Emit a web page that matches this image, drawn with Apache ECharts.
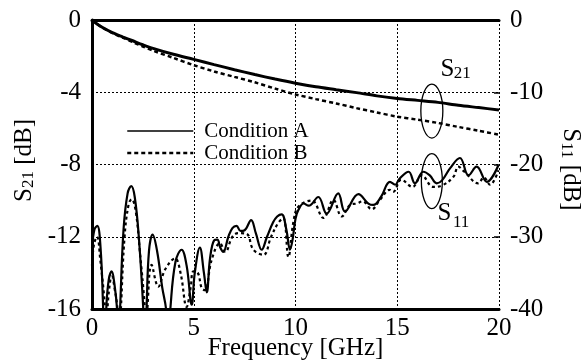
<!DOCTYPE html>
<html>
<head>
<meta charset="utf-8">
<script src="https://cdn.jsdelivr.net/npm/echarts@6/dist/echarts.min.js"></script>
<style>html,body{margin:0;padding:0;background:#fff;}#c{width:584px;height:362px;}</style>
</head>
<body>
<div id="c"></div>
<script>
// ---- data ----
const xTicks = [0, 5, 10, 15, 20];
const s21Freq = [0,0.25,0.5,1,1.5,2,2.5,3,4,5,6,7,8,9,10,11,12,13,14,15,16,17,18,19,20];
const s21A = [0,-0.22,-0.4,-0.7,-0.93,-1.15,-1.37,-1.57,-1.9,-2.18,-2.47,-2.75,-3.02,-3.27,-3.5,-3.7,-3.86,-4.02,-4.2,-4.34,-4.45,-4.56,-4.72,-4.85,-4.98];
const s21B = [0,-0.22,-0.41,-0.72,-0.97,-1.22,-1.47,-1.7,-2.1,-2.5,-2.85,-3.15,-3.45,-3.8,-4.12,-4.38,-4.62,-4.88,-5.12,-5.35,-5.52,-5.7,-5.92,-6.13,-6.35];

const s11AFreq = [0,0.12,0.26,0.42,0.55,0.62,0.7,0.82,0.97,1.1,1.23,1.3,1.38,1.55,1.75,1.93,2.1,2.3,2.52,2.6,2.68,2.8,2.98,3.2,3.45,3.64,3.75,3.85,4.1,4.4,4.65,4.9,5.05,5.3,5.5,5.64,5.8,6.0,6.16,6.3,6.45,6.7,6.9,7.1,7.3,7.5,7.82,8.05,8.34,8.6,8.9,9.1,9.32,9.55,9.73,9.85,10.0,10.14,10.4,10.65,11.12,11.53,12.1,12.43,13.09,13.58,13.82,14.2,14.64,14.9,15.1,15.56,15.87,16.28,16.6,16.94,17.2,17.6,18.08,18.5,18.9,19.4,19.97];
const s11A = [-31.5,-29,-28.5,-31.5,-40,-46,-40,-36,-34.8,-36.5,-40,-46,-40,-29,-24,-23.0,-24.5,-30,-40,-46,-40,-32,-29.7,-32,-37,-40,-45,-40,-33.5,-31.8,-34,-39.4,-35,-31.5,-35,-37.7,-33,-30.5,-30.4,-31.5,-32.1,-30,-28.8,-28.5,-29.2,-29.1,-27.7,-29.5,-31.8,-30,-28,-27.2,-26.9,-29,-31.8,-30.5,-27.5,-26.3,-25.4,-25.7,-24.5,-26.8,-24.0,-26.5,-24.1,-25.4,-25.6,-24.5,-22.4,-22.8,-22.0,-21.0,-22.6,-21.0,-21.5,-22.6,-22.2,-20.5,-19.1,-21.5,-20.3,-22.4,-20.1];

const s11BFreq = [0,0.1,0.25,0.4,0.64,0.7,0.76,0.9,0.98,1.1,1.25,1.32,1.42,1.6,1.8,1.95,2.15,2.35,2.6,2.65,2.72,2.93,3.26,3.6,4.08,4.35,4.65,4.85,4.98,5.2,5.39,5.55,5.88,6.29,6.55,6.9,7.19,7.6,7.93,8.42,8.8,9.15,9.4,9.65,9.9,10.15,10.8,11.37,11.86,12.27,12.68,13.0,13.3,13.74,14.15,14.64,14.8,15.2,15.75,16.2,16.77,17.2,17.76,18.0,18.3,18.98,19.25,19.56,19.97];
const s11B = [-34,-31,-30,-33,-40,-46,-40,-36,-35.5,-37,-40,-46,-40,-30,-25.5,-24.8,-26.5,-32,-40,-44,-40,-33.9,-36.9,-34.5,-33.0,-35,-39.7,-37,-34.8,-35,-37.1,-37.4,-33.2,-30.9,-32.1,-30,-29.5,-29.6,-31.8,-32.5,-30,-28.1,-27.4,-32.8,-27.9,-25.8,-25.0,-27.4,-24.9,-27.2,-25.6,-25.4,-25.1,-26.2,-24.9,-23.5,-23.8,-22.1,-23.1,-21.5,-23.1,-22.9,-21.7,-20.3,-21,-22.6,-21.8,-22.8,-20.8];

const legendNames = ['Condition A', 'Condition B'];

function pairs(xs, ys){ return xs.map((x,i)=>[x, ys[i]]); }

const FONT = 'Liberation Serif';
const chart = echarts.init(document.getElementById('c'), null, {renderer:'canvas'});
const grid = {left:92, right:85, top:20, bottom:53, containLabel:false, outerBoundsMode:'none'};
const dotted = {color:'#000', width:1, type:[2,2]};
const nameRich = {
  m:{fontFamily:FONT, fontSize:25, color:'#000', lineHeight:26, verticalAlign:'bottom'},
  s:{fontFamily:FONT, fontSize:17, color:'#000', lineHeight:16, verticalAlign:'bottom'}
};

const option = {
  backgroundColor:'#fff',
  animation:false,
  grid: grid,
  legend: {
    orient:'vertical', left:126, top:120, padding:0, itemGap:0, itemWidth:66, itemHeight:14,
    itemStyle:{color:'rgba(0,0,0,0)', borderColor:'rgba(0,0,0,0)', borderWidth:0},
    data:[
      {name:legendNames[0], lineStyle:{width:1.4}},
      {name:legendNames[1], lineStyle:{width:2.5}}
    ],
    textStyle:{fontFamily:FONT, fontSize:21, color:'#000', lineHeight:22, padding:[0,0,0,6]}
  },
  xAxis: [{
    type:'value', min:0, max:20, interval:5, position:'bottom',
    axisLine:{show:true, onZero:false, lineStyle:{color:'#000', width:3}},
    axisTick:{show:false},
    axisLabel:{fontFamily:FONT, fontSize:25, color:'#000', margin:7},
    splitLine:{show:true, lineStyle:dotted},
    name:'Frequency [GHz]', nameLocation:'middle', nameGap:27, nameMoveOverlap:false,
    nameTextStyle:{fontFamily:FONT, fontSize:25, color:'#000'}
  },{
    type:'value', min:0, max:20, interval:5, position:'top',
    axisLine:{show:true, onZero:false, lineStyle:{color:'#000', width:3}},
    axisTick:{show:false}, axisLabel:{show:false}, splitLine:{show:false}
  }],
  yAxis: [{
    type:'value', min:-16, max:0, interval:4, position:'left',
    axisLine:{show:true, onZero:false, lineStyle:{color:'#000', width:3}},
    axisTick:{show:false},
    axisLabel:{fontFamily:FONT, fontSize:25, color:'#000', margin:11},
    splitLine:{show:true, lineStyle:dotted},
    name:'{m|S}{s|21}{m| [dB]}', nameLocation:'middle', nameGap:55, nameRotate:90,
    nameTextStyle:{fontFamily:FONT, fontSize:25, color:'#000', rich:nameRich, padding:[0,0,0,8]}
  },{
    type:'value', min:-40, max:0, interval:10, position:'right',
    axisLine:{show:false, onZero:false},
    axisTick:{show:true, inside:true, length:5, lineStyle:{color:'#000', width:1.5}},
    axisLabel:{fontFamily:FONT, fontSize:25, color:'#000', margin:11},
    splitLine:{show:false},
    name:'{m|S}{s|11}{m| [dB]}', nameLocation:'middle', nameGap:59, nameRotate:-90,
    nameTextStyle:{fontFamily:FONT, fontSize:25, color:'#000', rich:nameRich, padding:[0,0,0,10]}
  }],
  series: [
    {name:legendNames[0], type:'line', xAxisIndex:0, yAxisIndex:0, data:pairs(s21Freq, s21A),
     showSymbol:false, symbol:'none', smooth:0.3, itemStyle:{color:'#000'}, lineStyle:{color:'#000', width:3}},
    {name:legendNames[1], type:'line', xAxisIndex:0, yAxisIndex:0, data:pairs(s21Freq, s21B),
     showSymbol:false, symbol:'none', smooth:0.3, itemStyle:{color:'#000'}, lineStyle:{color:'#000', width:2.5, type:[4,3]}},
    {name:legendNames[0], type:'line', xAxisIndex:0, yAxisIndex:1, data:pairs(s11AFreq, s11A),
     showSymbol:false, symbol:'none', smooth:0.4, clip:true, itemStyle:{color:'#000'}, lineStyle:{color:'#000', width:2.2}},
    {name:legendNames[1], type:'line', xAxisIndex:0, yAxisIndex:1, data:pairs(s11BFreq, s11B),
     showSymbol:false, symbol:'none', smooth:0.4, clip:true, itemStyle:{color:'#000'}, lineStyle:{color:'#000', width:2.2, type:[3,3]}}
  ]
};
chart.setOption(option);

// annotations anchored to data coordinates
const e21 = chart.convertToPixel({xAxisIndex:0, yAxisIndex:0}, [16.7, -5.04]);
const e11 = chart.convertToPixel({xAxisIndex:0, yAxisIndex:1}, [16.7, -22.3]);
chart.setOption({
  graphic: [
    {type:'ellipse', shape:{cx:e21[0], cy:e21[1], rx:11, ry:27}, style:{fill:null, stroke:'#000', lineWidth:1.3}, z:100},
    {type:'ellipse', shape:{cx:e11[0], cy:e11[1], rx:10.5, ry:27.5}, style:{fill:null, stroke:'#000', lineWidth:1.3}, z:100},
    {type:'text', x:e21[0]+15.5, y:e21[1]-42, style:{text:'S', font:'25px "Liberation Serif"', fill:'#000', align:'center', verticalAlign:'middle'}, z:100},
    {type:'text', x:e21[0]+30.5, y:e21[1]-38, style:{text:'21', font:'17px "Liberation Serif"', fill:'#000', align:'center', verticalAlign:'middle'}, z:100},
    {type:'text', x:e11[0]+12.7, y:e11[1]+32, style:{text:'S', font:'25px "Liberation Serif"', fill:'#000', align:'center', verticalAlign:'middle'}, z:100},
    {type:'text', x:e11[0]+29.3, y:e11[1]+41, style:{text:'11', font:'17px "Liberation Serif"', fill:'#000', align:'center', verticalAlign:'middle'}, z:100}
  ]
});
</script>
</body>
</html>
